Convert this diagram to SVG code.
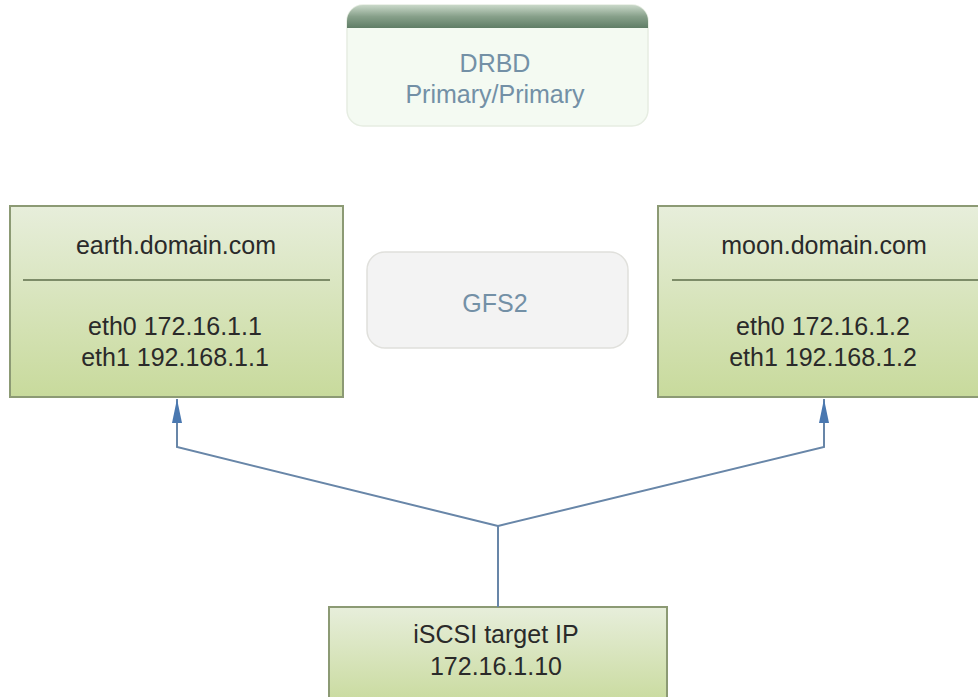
<svg xmlns="http://www.w3.org/2000/svg" width="978" height="697" viewBox="0 0 978 697">
<defs>
<linearGradient id="green" x1="0" y1="0" x2="0" y2="1">
<stop offset="0" stop-color="#e7eedb"/>
<stop offset="1" stop-color="#c8da9c"/>
</linearGradient>
<linearGradient id="hdr" x1="0" y1="0" x2="0" y2="1">
<stop offset="0" stop-color="#c9d8c9"/>
<stop offset="0.5" stop-color="#87a08a"/>
<stop offset="1" stop-color="#5f7d66"/>
</linearGradient>
<clipPath id="drbdclip"><rect x="347" y="5" width="301" height="121" rx="16"/></clipPath>
<marker id="arr" viewBox="0 0 24 10" refX="24" refY="5" markerWidth="24" markerHeight="10" markerUnits="userSpaceOnUse" orient="auto">
<path d="M0,0 L24,5 L0,10 Z" fill="#4a78b0"/>
</marker>
</defs>
<style>
.node{fill:url(#green);stroke:#8c9a74;stroke-width:2}
.div{stroke:#7d8c68;stroke-width:2}
.t{font-family:"Liberation Sans",Arial,sans-serif;font-size:25px;text-anchor:middle;fill:#2a2a2a}
.tb{font-family:"Liberation Sans",Arial,sans-serif;font-size:25px;text-anchor:middle;fill:#7390a6}
.con{fill:none;stroke:#6886a8;stroke-width:2}
</style>
<rect width="978" height="697" fill="#ffffff"/>
<g id="drbd">
<rect x="347" y="5" width="301" height="121" rx="16" fill="#f4faf2" stroke="#e6ede2" stroke-width="1.5"/>
<rect x="347" y="5" width="301" height="23" fill="url(#hdr)" clip-path="url(#drbdclip)"/>
<text class="tb" x="495" y="72">DRBD</text>
<text class="tb" x="495" y="103">Primary/Primary</text>
</g>
<g id="gfs2">
<rect x="367" y="252" width="261" height="96" rx="18" fill="#f3f3f3" stroke="#e0e0dc" stroke-width="1.5"/>
<text class="tb" x="495" y="312">GFS2</text>
</g>
<g id="earth">
<rect class="node" x="10" y="206" width="333" height="191"/>
<line class="div" x1="23" y1="280" x2="330" y2="280"/>
<text class="t" x="176" y="254">earth.domain.com</text>
<text class="t" x="175" y="335">eth0 172.16.1.1</text>
<text class="t" x="175" y="366">eth1 192.168.1.1</text>
</g>
<g id="moon">
<rect class="node" x="658" y="206" width="332" height="191"/>
<line class="div" x1="672" y1="280" x2="978" y2="280"/>
<text class="t" x="824" y="254">moon.domain.com</text>
<text class="t" x="823" y="335">eth0 172.16.1.2</text>
<text class="t" x="823" y="366">eth1 192.168.1.2</text>
</g>
<g id="iscsi">
<rect class="node" x="329" y="607" width="338" height="100"/>
<text class="t" x="496" y="643">iSCSI target IP</text>
<text class="t" x="496" y="675">172.16.1.10</text>
</g>
<g id="connectors">
<path class="con" d="M498,607 L498,526" />
<path class="con" d="M498,526 L177,447 L177,399" marker-end="url(#arr)"/>
<path class="con" d="M498,526 L824,447 L824,399" marker-end="url(#arr)"/>
</g>
</svg>
